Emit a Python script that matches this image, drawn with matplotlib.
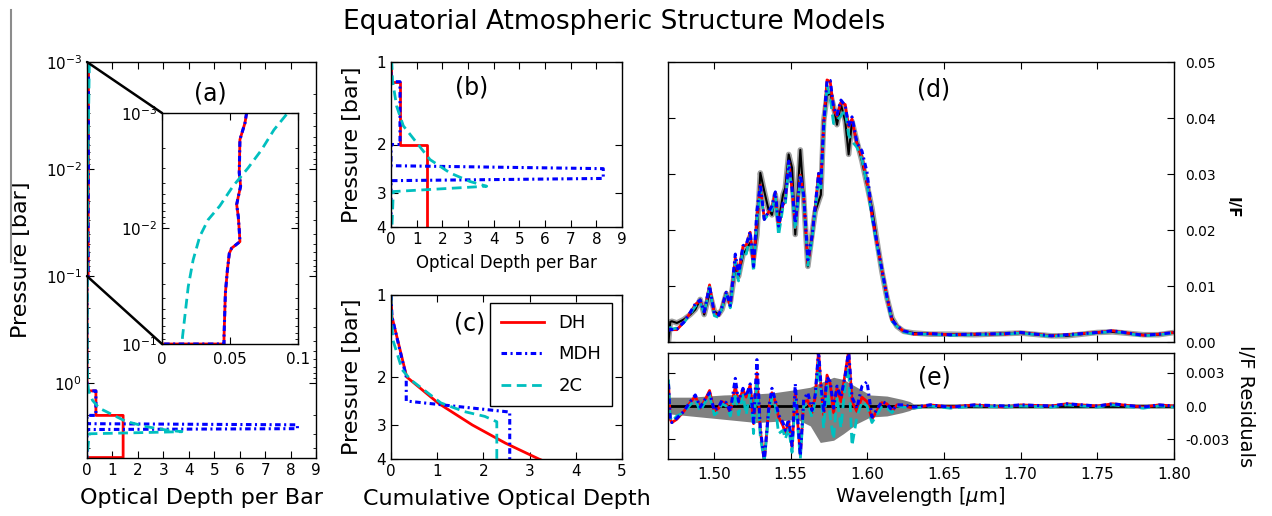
import numpy as np
import matplotlib
matplotlib.use("Agg")
import matplotlib.pyplot as plt
from matplotlib.patches import ConnectionPatch
from matplotlib.lines import Line2D
from matplotlib.ticker import FixedLocator, FixedFormatter, NullLocator

plt.rcParams['xtick.direction'] = 'in'
plt.rcParams['ytick.direction'] = 'in'
plt.rcParams['xtick.top'] = True
plt.rcParams['ytick.right'] = True
plt.rcParams['xtick.major.size'] = 5
plt.rcParams['ytick.major.size'] = 5
plt.rcParams['xtick.minor.size'] = 2.5
plt.rcParams['ytick.minor.size'] = 2.5
plt.rcParams['axes.linewidth'] = 1.0
plt.rcParams['lines.scale_dashes'] = False

# ---- vertical profiles: optical depth per bar vs pressure ----
dh_p   = [1e-3, 1.22e-3, 1.7e-3, 3.3e-3, 4.3e-3, 5.3e-3, 6.2e-3, 7.9e-3, 1.03e-2, 1.3e-2,
          1.48e-2, 1.64e-2, 2.28e-2, 3.63e-2, 8.63e-2, 0.1, 0.1, 1.18, 1.18, 2.0, 2.0, 4.95, 4.95]
dh_tau = [0.0622, 0.061, 0.0573, 0.0568, 0.0578, 0.0561, 0.0549, 0.0561, 0.0568, 0.0573,
          0.0512, 0.0495, 0.0481, 0.0466, 0.0456, 0.0456, 0.0, 0.0, 0.35, 0.35, 1.42, 1.42, 0.0]

mdh_p   = [1e-3, 1.22e-3, 1.7e-3, 3.3e-3, 4.3e-3, 5.3e-3, 6.2e-3, 7.9e-3, 1.03e-2, 1.3e-2,
           1.48e-2, 1.64e-2, 2.28e-2, 3.63e-2, 8.63e-2, 0.1, 0.1, 1.18, 1.18, 2.0, 2.0, 2.39,
           2.45, 2.66, 2.71, 4.95]
mdh_tau = [0.0622, 0.061, 0.0573, 0.0568, 0.0578, 0.0561, 0.0549, 0.0561, 0.0568, 0.0573,
           0.0512, 0.0495, 0.0481, 0.0466, 0.0456, 0.0456, 0.0, 0.0, 0.35, 0.35, 0.0, 0.0,
           8.27, 8.27, 0.0, 0.0]

c2_p   = [1.03e-3, 1.4e-3, 2.1e-3, 3.0e-3, 4.3e-3, 6.4e-3, 8.4e-3, 1.17e-2, 1.87e-2, 3.18e-2,
          8.63e-2, 0.3, 0.7, 1.0, 1.17, 1.45, 1.71, 1.97, 2.27, 2.54, 2.73, 2.84, 2.97, 4.95]
c2_tau = [0.0915, 0.0823, 0.073, 0.0632, 0.0522, 0.0424, 0.0339, 0.0278, 0.0229, 0.0193,
          0.0151, 0.012, 0.015, 0.03, 0.06, 0.22, 0.48, 1.0, 1.52, 2.30, 3.08, 3.73, 0.09, 0.0]

# ---- cumulative optical depth ----
dh_cum_p   = [1.0, 1.2, 2.0, 2.5, 3.0, 3.5, 4.0, 4.95]
dh_cum     = [0.0, 0.02, 0.34, 1.03, 1.76, 2.48, 3.2, 4.5]
mdh_cum_p  = [1.0, 1.2, 2.0, 2.45, 2.69, 4.95]
mdh_cum    = [0.0, 0.02, 0.33, 0.33, 2.57, 2.57]
c2_cum_p   = [1.0, 1.2, 1.46, 1.88, 2.05, 2.49, 2.68, 2.79, 2.92, 4.95]
c2_cum     = [0.0, 0.01, 0.04, 0.24, 0.43, 1.08, 1.59, 2.03, 2.29, 2.29]

# ---- spectrum ----
wav = [1.4703, 1.4715, 1.4725, 1.4758, 1.4802, 1.4845, 1.4878, 1.4910, 1.4936, 1.4971,
       1.5002, 1.5030, 1.5052, 1.5080, 1.5106, 1.5139, 1.5160, 1.5189, 1.5210, 1.5236,
       1.5258, 1.5280, 1.5302, 1.5328, 1.5356, 1.5378, 1.5400, 1.5421, 1.5450, 1.5465,
       1.5487, 1.5509, 1.5530, 1.5563, 1.5585, 1.5612, 1.5639, 1.5660, 1.5682, 1.5697,
       1.5715, 1.5737, 1.5758, 1.5780, 1.5802, 1.5828, 1.5856, 1.5878, 1.5900, 1.5932,
       1.5965, 1.5998, 1.6030, 1.6063, 1.6095, 1.6128, 1.6161, 1.6193, 1.6237, 1.6302,
       1.6411, 1.6541, 1.6700, 1.6900, 1.7000, 1.7200, 1.7300, 1.7500, 1.7600, 1.7800,
       1.7900, 1.8000]
obs = [0.0000, 0.0036, 0.0037, 0.0034, 0.0040, 0.0049, 0.0058, 0.0076, 0.0049, 0.0088,
       0.0055, 0.0049, 0.0058, 0.0086, 0.0070, 0.0132, 0.0117, 0.0156, 0.0165, 0.0177,
       0.0150, 0.0192, 0.0302, 0.0269, 0.0236, 0.0227, 0.0263, 0.0215, 0.0263, 0.0275,
       0.0335, 0.0311, 0.0192, 0.0343, 0.0257, 0.0135, 0.0192, 0.0233, 0.0251, 0.0263,
       0.0394, 0.0440, 0.0445, 0.0420, 0.0388, 0.0424, 0.0394, 0.0335, 0.0394, 0.0358,
       0.0323, 0.0281, 0.0239, 0.0180, 0.0126, 0.0079, 0.0043, 0.0028, 0.0019, 0.0016,
       0.0014, 0.0014, 0.0013, 0.0015, 0.0016, 0.0011, 0.0011, 0.0017, 0.0018, 0.0013,
       0.0013, 0.0017]
res_dh = [0.0022, -0.0012, -0.0015, -0.0012, -0.0005, 0.0003, 0.0009, -0.0002, 0.0004, 0.0014,
          -0.0005, -0.0002, 0.0004, 0.0002, -0.0006, 0.0018, 0.0003, 0.0015, 0.0008, 0.0019,
          -0.0016, 0.0030, -0.0022, -0.0050, -0.0004, 0.0012, 0.0004, -0.0010, -0.0018, -0.0025,
          -0.0014, -0.0038, 0.0012, -0.0045, 0.0004, 0.0005, -0.0006, 0.0008, 0.0050, 0.0018,
          -0.0008, 0.0028, 0.0020, -0.0006, 0.0016, 0.0004, 0.0030, 0.0050, 0.0004, -0.0005,
          0.0008, 0.0004, -0.0012, -0.0004, 0.0003, 0.0002, -0.0005, 0.0001, 0.0000, -0.0002,
          0.0001, -0.0001, 0.0001, -0.0001, 0.0001, 0.0000, 0.0002, 0.0000, 0.0002, -0.0001,
          0.0001, 0.0000]
res_mdh = [0.0020, -0.0013, -0.0015, -0.0011, -0.0005, 0.0004, 0.0010, -0.0001, 0.0005, 0.0012,
           -0.0004, -0.0001, 0.0005, 0.0003, -0.0005, 0.0025, 0.0004, 0.0016, 0.0009, 0.0020,
           -0.0015, 0.0042, -0.0020, -0.0050, -0.0003, 0.0016, 0.0005, -0.0008, -0.0015, -0.0022,
           -0.0012, -0.0036, 0.0020, -0.0045, 0.0006, 0.0012, -0.0004, 0.0010, 0.0050, 0.0020,
           -0.0006, 0.0026, 0.0022, -0.0002, 0.0018, 0.0008, 0.0028, 0.0050, 0.0008, -0.0002,
           0.0018, 0.0022, -0.0010, -0.0003, 0.0004, 0.0002, -0.0004, 0.0001, 0.0001, -0.0001,
           0.0001, -0.0001, 0.0001, 0.0000, 0.0001, 0.0000, 0.0002, 0.0000, 0.0002, -0.0001,
           0.0001, 0.0000]
res_2c = [0.0024, -0.0010, -0.0014, -0.0009, -0.0006, 0.0001, 0.0006, -0.0005, 0.0002, 0.0010,
          -0.0008, -0.0005, 0.0002, 0.0000, -0.0009, 0.0012, -0.0008, 0.0010, -0.0008, 0.0014,
          -0.0025, 0.0024, -0.0028, -0.0050, -0.0008, 0.0008, 0.0000, -0.0025, -0.0022, -0.0030,
          -0.0020, -0.0042, 0.0008, -0.0048, 0.0000, 0.0002, -0.0010, 0.0004, 0.0040, 0.0012,
          -0.0020, 0.0018, -0.0010, -0.0030, 0.0008, -0.0020, 0.0020, 0.0035, -0.0036, -0.0010,
          0.0004, 0.0000, -0.0015, -0.0008, 0.0000, -0.0002, -0.0006, 0.0000, -0.0001, -0.0002,
          0.0000, -0.0002, 0.0000, -0.0001, 0.0000, -0.0001, 0.0001, -0.0001, 0.0001, -0.0002,
          0.0000, -0.0001]

band_wav = [1.4700, 1.4845, 1.5063, 1.5280, 1.5389, 1.5541, 1.5628, 1.5693, 1.5780, 1.5845,
            1.5932, 1.6019, 1.6128, 1.6226, 1.6277, 1.6300, 1.8000]
band_hi = [0.0008, 0.0008, 0.0010, 0.0011, 0.0012, 0.0015, 0.0017, 0.0021, 0.0026, 0.0024,
           0.0017, 0.0010, 0.0009, 0.0006, 0.0004, 0.0002, 0.0002]
band_lo = [-0.0007, -0.0009, -0.0012, -0.0015, -0.0014, -0.0012, -0.0018, -0.0033, -0.0031, -0.0025,
           -0.0016, -0.0010, -0.0009, -0.0006, -0.0004, -0.0002, -0.0002]

DH = dict(color='r', lw=2, ls='-')
MDH = dict(color='b', lw=2.2, ls=(0, (4, 2.5, 1.5, 2.5)))
C2 = dict(color='c', lw=2, ls=(0, (7, 4)))

fig = plt.figure(figsize=(12.72, 5.16), dpi=100)
W, H = 1272.0, 516.0
def box(l, r, t, b):
    return [l / W, 1 - b / H, (r - l) / W, (b - t) / H]

ax_a = fig.add_axes(box(87, 316, 62, 458))
ax_in = fig.add_axes(box(162, 298, 113, 344))
ax_b = fig.add_axes(box(391, 622, 62, 227))
ax_c = fig.add_axes(box(391, 622, 295, 459))
ax_d = fig.add_axes(box(668, 1174, 62, 342))
ax_e = fig.add_axes(box(668, 1174, 353, 459))

# (a) full profile and (b) zoom on the deep layers
for ax in (ax_a, ax_b):
    ax.plot(dh_tau, dh_p, **DH)
    ax.plot(mdh_tau, mdh_p, **MDH)
    ax.plot(c2_tau, c2_p, **C2)
    ax.set_yscale('log')
    ax.set_xlim(0, 9)
    ax.set_xticks(range(10))
    ax.tick_params(labelsize=11)

ax_a.set_ylim(5.0, 1e-3)
ax_a.yaxis.set_major_locator(FixedLocator([1e-3, 1e-2, 1e-1, 1e0]))
ax_a.set_ylabel('Pressure [bar]', fontsize=16)
ax_a.yaxis.set_label_coords(-0.245, 0.5)
ax_a.set_xlabel('Optical Depth per Bar', fontsize=16)
ax_a.xaxis.set_label_coords(0.5, -0.075)

# inset
ax_in.plot(dh_tau, dh_p, **DH)
ax_in.plot(mdh_tau, mdh_p, **MDH)
ax_in.plot(c2_tau, c2_p, **C2)
ax_in.set_yscale('log')
ax_in.set_ylim(0.1, 1e-3)
ax_in.set_xlim(0, 0.1)
ax_in.yaxis.set_major_locator(FixedLocator([1e-3, 1e-2, 1e-1]))
ax_in.set_xticks([0, 0.05, 0.1])
ax_in.set_xticklabels(['0', '0.05', '0.1'])
ax_in.tick_params(labelsize=11)
ax_in.tick_params(axis='x', pad=6)

for yv in (1e-3, 1e-1):
    con = ConnectionPatch(xyA=(0, yv), coordsA=ax_a.transData,
                          xyB=(0, yv), coordsB=ax_in.transData,
                          color='k', lw=1.8)
    fig.add_artist(con)

# (b)
ax_b.set_ylim(4, 1)
ax_b.yaxis.set_major_locator(FixedLocator([1, 2, 3, 4]))
ax_b.yaxis.set_major_formatter(FixedFormatter(['1', '2', '3', '4']))
ax_b.yaxis.set_minor_locator(NullLocator())
ax_b.set_ylabel('Pressure [bar]', fontsize=16)
ax_b.yaxis.set_label_coords(-0.125, 0.5)
ax_b.set_xlabel('Optical Depth per Bar', fontsize=12)
ax_b.xaxis.set_label_coords(0.5, -0.165)

# (c)
ax_c.plot(dh_cum, dh_cum_p, label='DH', **DH)
ax_c.plot(mdh_cum, mdh_cum_p, label='MDH', **MDH)
ax_c.plot(c2_cum, c2_cum_p, label='2C', **C2)
ax_c.set_yscale('log')
ax_c.set_ylim(4, 1)
ax_c.set_xlim(0, 5)
ax_c.yaxis.set_major_locator(FixedLocator([1, 2, 3, 4]))
ax_c.yaxis.set_major_formatter(FixedFormatter(['1', '2', '3', '4']))
ax_c.yaxis.set_minor_locator(NullLocator())
ax_c.tick_params(labelsize=11)
ax_c.set_ylabel('Pressure [bar]', fontsize=16)
ax_c.yaxis.set_label_coords(-0.125, 0.5)
ax_c.set_xlabel('Cumulative Optical Depth', fontsize=16)
ax_c.xaxis.set_label_coords(0.5, -0.18)
leg = ax_c.legend(loc='upper right', bbox_to_anchor=(0.957, 0.951), borderaxespad=0,
                  fontsize=13, handlelength=2.4, labelspacing=0.75, fancybox=False,
                  framealpha=1, edgecolor='k', borderpad=0.6)
leg.get_frame().set_linewidth(1.0)

# (d) spectrum
wav_a = np.array(wav)
obs_a = np.array(obs)
ax_d.plot(wav_a, obs_a, color='0.5', lw=4, alpha=0.75, solid_capstyle='butt')
ax_d.plot(wav_a, obs_a, color='k', lw=1.5)
ax_d.plot(wav_a, obs_a + np.array(res_dh), **DH)
ax_d.plot(wav_a, obs_a + np.array(res_2c), **C2)
ax_d.plot(wav_a, obs_a + np.array(res_mdh), **MDH)
ax_d.set_xlim(1.47, 1.80)
ax_d.set_ylim(0, 0.05)
ax_d.set_xticks([1.50, 1.55, 1.60, 1.65, 1.70, 1.75, 1.80])
ax_d.set_xticklabels([])
ax_d.set_yticks([0, 0.01, 0.02, 0.03, 0.04, 0.05])
ax_d.set_yticklabels(['0.00', '0.01', '0.02', '0.03', '0.04', '0.05'])
ax_d.tick_params(axis='y', labelleft=False, labelright=True, labelsize=10, pad=8)
ax_d.set_ylabel('I/F', fontsize=11, fontweight='bold', rotation=270)
ax_d.yaxis.set_label_position('right')
ax_d.yaxis.set_label_coords(1.13, 0.48)

# (e) residuals
ax_e.fill_between(band_wav, band_lo, band_hi, color='0.5', lw=0)
ax_e.axhline(0, color='k', lw=2)
ax_e.plot(wav_a, res_dh, **DH)
ax_e.plot(wav_a, res_2c, **C2)
ax_e.plot(wav_a, res_mdh, **MDH)
ax_e.set_xlim(1.47, 1.80)
ax_e.set_ylim(-0.0048, 0.0048)
ax_e.set_xticks([1.50, 1.55, 1.60, 1.65, 1.70, 1.75, 1.80])
ax_e.set_xticklabels(['1.50', '1.55', '1.60', '1.65', '1.70', '1.75', '1.80'])
ax_e.set_yticks([-0.003, 0.0, 0.003])
ax_e.set_yticklabels(['-0.003', '0.0', '0.003'])
ax_e.tick_params(axis='y', labelleft=False, labelright=True, labelsize=10, pad=8)
ax_e.tick_params(axis='x', labelsize=11, pad=6)
ax_e.set_ylabel('I/F Residuals', fontsize=14, rotation=270)
ax_e.yaxis.set_label_position('right')
ax_e.yaxis.set_label_coords(1.16, 0.5)
ax_e.set_xlabel(r'Wavelength [$\mu$m]', fontsize=14)
ax_e.xaxis.set_label_coords(0.498, -0.25)

# panel letters and title
for txt, x, y in [('(a)', 210, 93), ('(b)', 472, 88), ('(c)', 470, 323),
                  ('(d)', 934, 89), ('(e)', 934, 378)]:
    fig.text(x / W, 1 - y / H, txt, fontsize=17, ha='center', va='center')
fig.text(614 / W, 1 - 22 / H, 'Equatorial Atmospheric Structure Models',
         fontsize=19, ha='center', va='center')

fig.add_artist(Line2D([11 / W, 11 / W], [1 - 10 / H, 1 - 262 / H], color='0.55', lw=1.5))

fig.savefig('out.png', dpi=100)
